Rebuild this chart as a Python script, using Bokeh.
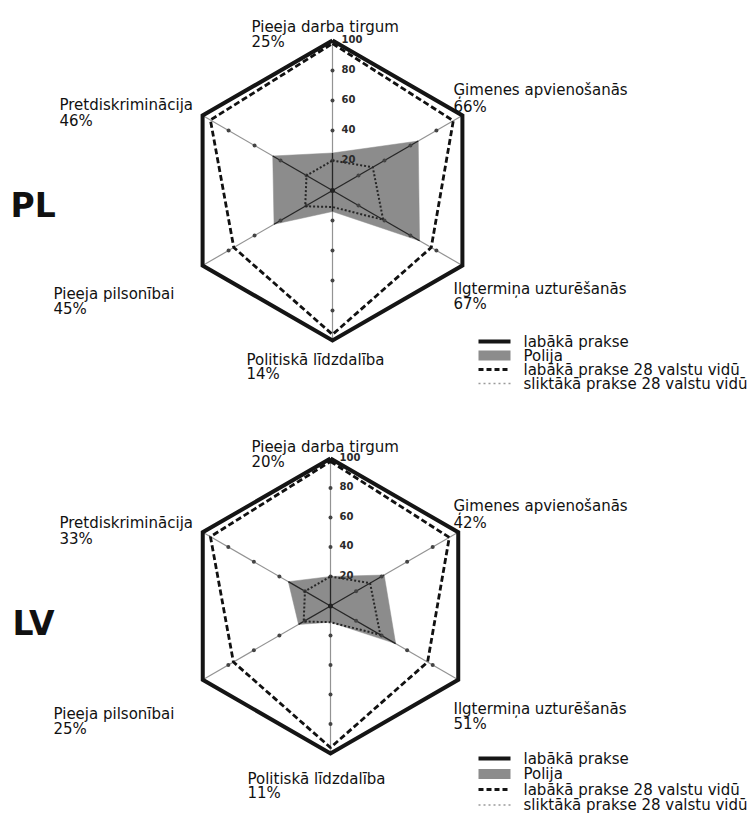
import math
from bokeh.plotting import figure
from bokeh.models import Range1d
from bokeh.core.properties import value
from bokeh.embed import file_html
from bokeh.resources import INLINE

# ---------------- data ----------------
categories = ["Pieeja darba tirgum", "Ģimenes apvienošanās", "Ilgtermiņa uzturēšanās",
              "Politiskā līdzdalība", "Pieeja pilsonībai", "Pretdiskriminācija"]
pl_values = [25, 66, 67, 14, 45, 46]
lv_values = [20, 42, 51, 11, 25, 33]
best_practice = [100, 100, 100, 100, 100, 100]
best_in_28 = [98, 93, 76, 96, 76, 94]
worst_in_28 = [20, 31, 39, 11, 21, 20]
tick_values = [20, 40, 60, 80, 100]
country_codes = ["PL", "LV"]
legend_labels = ["labākā prakse", "Polija", "labākā prakse 28 valstu vidū",
                 "sliktākā prakse 28 valstu vidū"]

# ---------------- layout (positions / styles) ----------------
charts = [
    dict(code=country_codes[0], values=pl_values, cx=332, cy=190, R=150,
         labels=[(251, 26), (453, 89), (453, 288), (246, 359), (53, 293), (59, 104)],
         code_pos=(10, 205), legend_y0=341, legend_step=14),
    dict(code=country_codes[1], values=lv_values, cx=330, cy=605.5, R=147.5,
         labels=[(251, 446), (453, 505), (453, 708), (247, 778), (53, 713), (59, 522)],
         code_pos=(12, 623), legend_y0=758, legend_step=15.5),
]
second_line = [15, 17, 15, 14, 15, 16]

FONT = value("DejaVu Sans")
W, H = 754, 814

p = figure(width=W, height=H, x_range=Range1d(0, W), y_range=Range1d(H, 0),
           output_backend="svg", toolbar_location=None, min_border=0)
p.axis.visible = False
p.grid.visible = False
p.outline_line_color = None
p.background_fill_color = "white"
p.border_fill_color = "white"

angles = [math.radians(90 - 60 * i) for i in range(6)]


def pts(vals, cx, cy, R):
    xs = [cx + R * v / 100.0 * math.cos(a) for v, a in zip(vals, angles)]
    ys = [cy - R * v / 100.0 * math.sin(a) for v, a in zip(vals, angles)]
    return xs, ys


def closed(xs, ys):
    return xs + [xs[0]], ys + [ys[0]]


for ch in charts:
    cx, cy, R = ch["cx"], ch["cy"], ch["R"]
    ex, ey = pts(best_practice, cx, cy, R)
    # spokes
    p.segment(x0=[cx] * 6, y0=[cy] * 6, x1=ex, y1=ey, line_color="#939393", line_width=1.2)
    # country polygon
    vx, vy = pts(ch["values"], cx, cy, R)
    p.patch(vx, vy, fill_color="#8c8c8c", line_color="#8c8c8c", line_width=0.5)
    # darker spokes inside the filled area
    p.segment(x0=[cx] * 6, y0=[cy] * 6, x1=vx, y1=vy, line_color="#262626", line_width=1.3)
    # tick dots
    tx, ty = [], []
    for t in tick_values[:-1]:
        a_, b_ = pts([t] * 6, cx, cy, R)
        tx += a_
        ty += b_
    p.scatter(tx, ty, size=4, fill_color="#444444", line_color=None)
    p.scatter([cx], [cy], size=5, fill_color="#222222", line_color=None)
    # worst in 28 (dotted)
    wx, wy = closed(*pts(worst_in_28, cx, cy, R))
    p.line(wx, wy, line_color="#262626", line_width=2, line_dash="2 2")
    # best in 28 (dashed)
    bx, by = closed(*pts(best_in_28, cx, cy, R))
    p.line(bx, by, line_color="#111111", line_width=2.8, line_dash="6 3")
    # best practice hexagon
    hx, hy = closed(ex, ey)
    p.line(hx, hy, line_color="#151515", line_width=4, line_join="miter")
    # radial tick labels
    p.text(x=[cx + 9] * len(tick_values),
           y=[cy - R * t / 100.0 - 2 for t in tick_values],
           text=[str(t) for t in tick_values],
           text_font=FONT, text_font_style="bold", text_font_size="10px",
           text_color="#2a2a2a", text_align="left", text_baseline="middle")
    # category labels
    lx = [pos[0] for pos in ch["labels"]]
    ly = [pos[1] for pos in ch["labels"]]
    p.text(x=lx, y=ly, text=categories, text_font=FONT, text_font_size="15px",
           text_color="#111111", text_align="left", text_baseline="alphabetic")
    p.text(x=lx, y=[y + d for y, d in zip(ly, second_line)],
           text=[f"{v}%" for v in ch["values"]], text_font=FONT, text_font_size="15px",
           text_color="#111111", text_align="left", text_baseline="alphabetic")
    # country code
    p.text(x=[ch["code_pos"][0]], y=[ch["code_pos"][1]], text=[ch["code"]],
           text_font=FONT, text_font_style="bold", text_font_size="33px",
           text_color="#111111", text_align="left", text_baseline="alphabetic")
    # legend
    ys = [ch["legend_y0"] + i * ch["legend_step"] for i in range(4)]
    x0, x1 = 478, 510
    p.segment(x0=[x0], y0=[ys[0]], x1=[x1], y1=[ys[0]], line_color="#151515", line_width=4)
    p.quad(left=[x0], right=[x1], top=[ys[1] - 5], bottom=[ys[1] + 5],
           fill_color="#8c8c8c", line_color=None)
    p.segment(x0=[x0], y0=[ys[2]], x1=[x1], y1=[ys[2]], line_color="#151515",
              line_width=3, line_dash="5 3")
    p.segment(x0=[x0], y0=[ys[3]], x1=[x1], y1=[ys[3]], line_color="#9a9a9a",
              line_width=1.5, line_dash="2 3")
    p.text(x=[523] * 4, y=ys, text=legend_labels, text_font=FONT, text_font_size="15px",
           text_color="#111111", text_align="left", text_baseline="middle")

open("out.html", "w").write(file_html(p, INLINE))
